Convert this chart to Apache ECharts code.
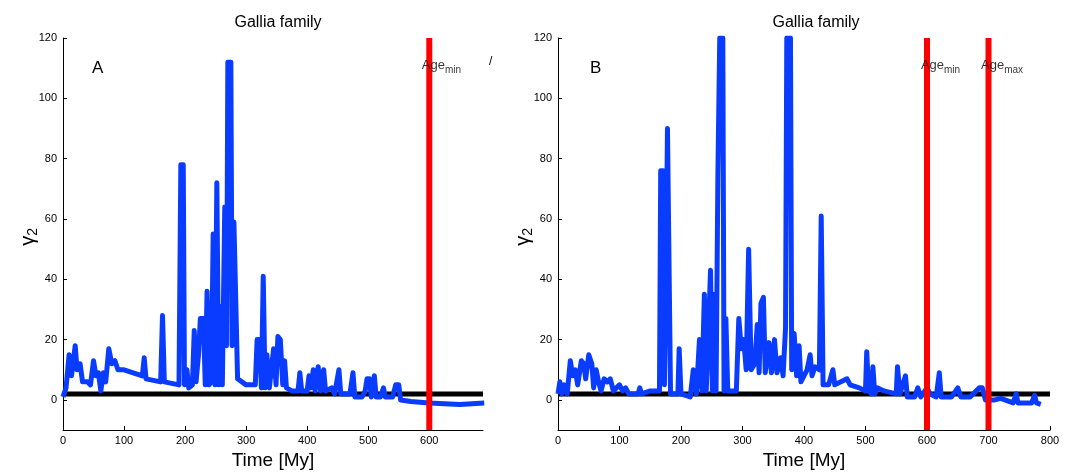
<!DOCTYPE html>
<html><head><meta charset="utf-8">
<script src="https://cdn.jsdelivr.net/npm/echarts@6/dist/echarts.min.js"></script>
<style>html,body{margin:0;background:#fff}#c{width:1070px;height:475px}</style>
</head><body><div id="c"></div>
<script>
// panel A: gamma2 vs time
const gammaA = [[0,1],[5,4],[10,15],[14,8],[20,18],[23,10],[28,12],[32,6],[40,6],[45,5],[50,13],[54,8],[58,9],[62,3],[66,9],[70,6],[75,17],[80,12],[85,13],[90,10],[100,10],[130,8],[133,14],[136,7],[160,6],[163,28],[166,6],[190,5],[193,78],[197,78],[199,5],[203,10],[206,4],[212,5],[215,23],[218,6],[222,15],[225,27],[230,27],[233,5],[236,36],[239,5],[243,6],[246,55],[249,5],[252,72],[255,5],[258,31],[261,5],[265,64],[268,18],[270,112],[275,112],[277,18],[280,59],[283,59],[286,7],[300,5],[315,5],[318,20],[322,20],[325,4],[328,41],[331,4],[334,15],[338,4],[345,17],[349,5],[352,21],[356,20],[360,5],[363,13],[366,4],[375,3],[385,3],[388,9],[391,3],[400,3],[403,8],[406,4],[410,10],[413,3],[418,11],[422,3],[427,10],[430,3],[440,4],[445,2],[452,10],[455,2],[470,2],[475,9],[478,1],[490,1],[495,3],[498,7],[502,7],[505,1],[510,8],[513,1],[520,1],[525,4],[528,1],[540,1],[545,5],[550,5],[553,0],[570,-0.5],[600,-1],[650,-1.5],[690,-1]];
// panel B
const gammaB = [[0,2],[3,6],[6,2],[10,5],[15,2],[20,13],[24,8],[28,10],[32,5],[38,13],[42,12],[45,7],[50,15],[55,12],[58,4],[62,10],[66,6],[70,3],[75,7],[80,6],[85,7],[90,3],[100,5],[105,3],[110,4],[115,2],[130,2],[133,4],[136,2],[150,3],[165,3],[167,76],[171,76],[173,5],[176,48],[178,90],[181,90],[183,2],[195,2],[197,17],[200,2],[215,1],[220,10],[225,2],[230,20],[234,3],[238,35],[241,3],[245,25],[248,43],[251,3],[255,35],[257,3],[260,75],[263,120],[268,120],[270,3],[273,27],[276,3],[285,3],[290,3],[294,27],[298,17],[302,20],[306,10],[310,50],[314,10],[320,12],[324,25],[327,9],[330,32],[334,34],[337,9],[343,19],[347,9],[352,20],[356,9],[362,14],[366,8],[370,24],[372,120],[378,120],[380,10],[384,22],[388,8],[392,18],[395,6],[405,10],[410,15],[413,8],[418,11],[425,10],[428,61],[431,5],[440,5],[447,10],[450,5],[470,7],[475,5],[490,4],[500,3],[502,16],[505,3],[510,2],[512,11],[515,2],[520,4],[530,3],[550,2],[552,11],[556,2],[565,8],[568,1],[580,1],[585,4],[590,1],[600,4],[605,2],[615,1],[620,9],[623,1],[640,1],[650,4],[655,1],[670,1],[685,4],[690,4],[695,0],[710,0],[720,0.5],[740,-1],[745,2],[748,-1],[770,-1],[775,1.5],[778,-1],[785,-1.5]];
const yTicks = [0, 20, 40, 60, 80, 100, 120];
const threshold = 2;
const ageMin = 600, ageMax = 700;
const xMaxA = 688, xMaxB = 800;

const FONT = 'Liberation Sans, Arial, sans-serif';
const BLUE = '#0a3cff', RED = '#ff0000';
const chart = echarts.init(document.getElementById('c'));

function xAxis(i, max) {
  return { gridIndex: i, type: 'value', min: 0, max: max, interval: 100,
    name: 'Time [My]', nameLocation: 'middle', nameGap: 17,
    nameTextStyle: { fontFamily: FONT, fontSize: 19, color: '#000' },
    axisLine: { onZero: false, lineStyle: { color: '#000', width: 1 } },
    axisTick: { inside: true, length: 4, lineStyle: { color: '#000' } },
    axisLabel: { fontFamily: FONT, fontSize: 11, color: '#000', margin: 5, showMaxLabel: i === 1 },
    splitLine: { show: false } };
}
function yAxis(i) {
  return { gridIndex: i, type: 'value', min: -10, max: 120,
    axisLine: { onZero: false, lineStyle: { color: '#000', width: 1 } },
    axisTick: { inside: true, length: 4, customValues: yTicks, lineStyle: { color: '#000' } },
    axisLabel: { fontFamily: FONT, fontSize: 11, color: '#000', margin: 6, customValues: yTicks },
    splitLine: { show: false } };
}
function hLine(i, max) {
  return { type: 'line', xAxisIndex: i, yAxisIndex: i, data: [[0, threshold], [max, threshold]],
    showSymbol: false, lineStyle: { color: '#000', width: 5 }, silent: true, z: 1 };
}
function vLine(i, x) {
  return { type: 'line', xAxisIndex: i, yAxisIndex: i, data: [[x, -10], [x, 120]],
    showSymbol: false, lineStyle: { color: RED, width: 6 }, silent: true, z: 3 };
}
function curve(i, d) {
  return { type: 'line', xAxisIndex: i, yAxisIndex: i, data: d, showSymbol: false,
    lineStyle: { color: BLUE, width: 5, join: 'round' }, silent: true, z: 2 };
}
function ageLabel(i, x, sub) {
  return { type: 'scatter', xAxisIndex: i, yAxisIndex: i, data: [[x, 111]], symbolSize: 0, z: 5,
    label: { show: true, position: 'inside', formatter: 'Age{s|' + sub + '}',
      fontFamily: FONT, fontSize: 13, color: '#000',
      rich: { s: { fontFamily: FONT, fontSize: 10, color: '#000', padding: [10, 0, 0, 0] } } } };
}
const yName = (left) => ({ type: 'text', left: left, top: 228, rotation: Math.PI / 2,
  style: { text: 'γ{s|2}', fontFamily: FONT, fontSize: 20, fill: '#000',
    rich: { s: { fontFamily: FONT, fontSize: 14, fill: '#000', padding: [10, 0, 0, 0] } } } });

chart.setOption({
  animation: false,
  grid: [
    { left: 63, top: 38, width: 420, bottom: 40 },
    { left: 558, top: 38, width: 492, bottom: 40 }
  ],
  title: [
    { text: 'Gallia family', left: 273, top: 10, textAlign: 'center',
      textStyle: { fontFamily: FONT, fontSize: 16, fontWeight: 'normal', color: '#000' } },
    { text: 'Gallia family', left: 811, top: 10, textAlign: 'center',
      textStyle: { fontFamily: FONT, fontSize: 16, fontWeight: 'normal', color: '#000' } }
  ],
  xAxis: [xAxis(0, xMaxA), xAxis(1, xMaxB)],
  yAxis: [yAxis(0), yAxis(1)],
  graphic: [
    { type: 'text', left: 92, top: 60, style: { text: 'A', fontFamily: FONT, fontSize: 17, fill: '#000' } },
    { type: 'text', left: 590, top: 60, style: { text: 'B', fontFamily: FONT, fontSize: 17, fill: '#000' } },
    { type: 'text', left: 489, top: 56, style: { text: '/', fontFamily: FONT, fontSize: 12, fill: '#000' } },
    yName(18), yName(513)
  ],
  series: [
    hLine(0, xMaxA), curve(0, gammaA), vLine(0, ageMin), ageLabel(0, ageMin + 20, 'min'),
    hLine(1, xMaxB), curve(1, gammaB), vLine(1, ageMin), vLine(1, ageMax),
    ageLabel(1, ageMin + 22, 'min'), ageLabel(1, ageMax + 22, 'max')
  ]
});
</script></body></html>
